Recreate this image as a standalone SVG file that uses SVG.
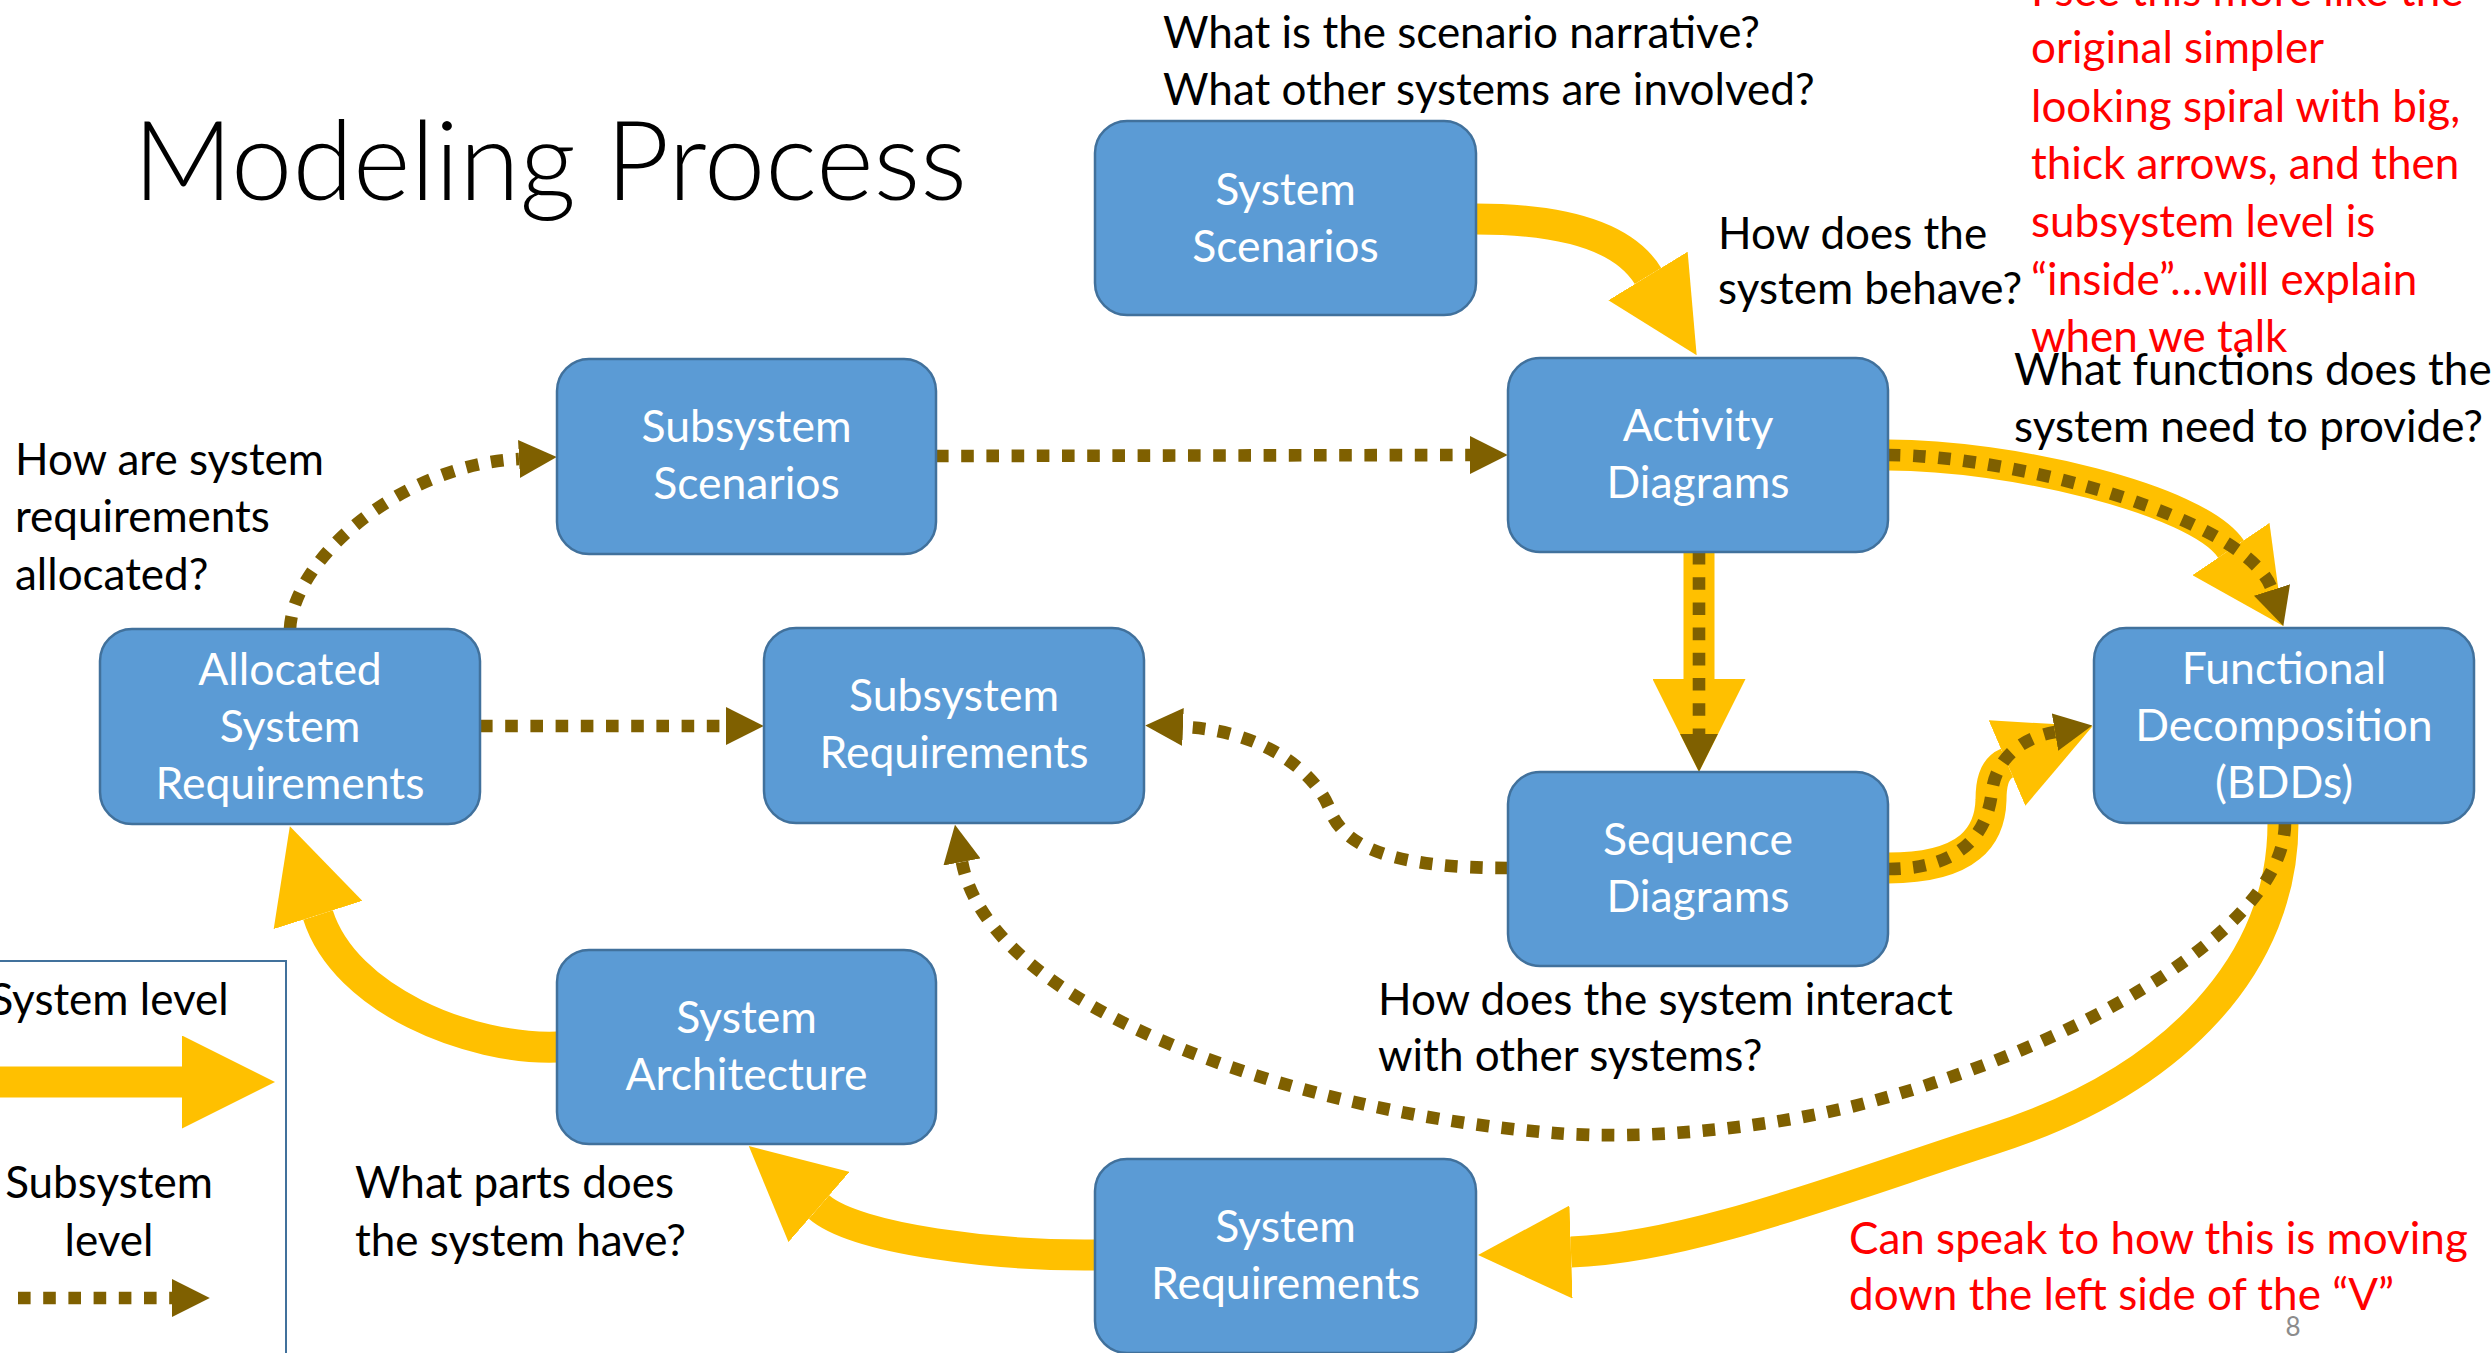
<svg xmlns="http://www.w3.org/2000/svg" width="2491" height="1353" viewBox="0 0 2491 1353">
  <style>
    .box { fill: #5B9BD5; stroke: #41719C; stroke-width: 2.5; }
    .lbl { font-family: Lato, "Open Sans", sans-serif; font-size: 44.5px; fill: #FFFFFF; text-anchor: middle; }
    .txt { font-family: Lato, "Open Sans", sans-serif; font-size: 44px; fill: #000000; }
    .note { font-family: Lato, "Open Sans", sans-serif; font-size: 44px; fill: #FF0000; }
    .title { font-family: Lato, "Open Sans", sans-serif; font-weight: 300; font-size: 110px; fill: #000000; }
    .sys { fill: none; stroke: #FFC000; stroke-width: 31; marker-end: url(#head-sys); }
    .sub { fill: none; stroke: #7F6000; stroke-width: 12.6; stroke-dasharray: 12.6 12.6; marker-end: url(#head-sub); }
  </style>
  <defs>
    <marker id="head-sys" viewBox="0 0 10 10" refX="0" refY="5" markerWidth="3" markerHeight="3" markerUnits="strokeWidth" orient="auto">
      <path d="M0,0 L10,5 L0,10 Z" fill="#FFC000"/>
    </marker>
    <marker id="head-sub" viewBox="0 0 10 10" refX="0" refY="5" markerWidth="3" markerHeight="3" markerUnits="strokeWidth" orient="auto">
      <path d="M0,0 L10,5 L0,10 Z" fill="#7F6000"/>
    </marker>
  </defs>

  <rect x="0" y="0" width="2491" height="1353" fill="#FFFFFF"/>

  <text class="title" x="133" y="200">Modeling Process</text>

  <!-- legend -->
  <g id="legend">
    <rect x="-5" y="961" width="291" height="410" fill="#FFFFFF" stroke="#41719C" stroke-width="2"/>
    <text class="txt" x="109" y="1015" text-anchor="middle">System level</text>
    <path class="sys" d="M-10,1082 L182,1082"/>
    <text class="txt" x="109" y="1198" text-anchor="middle">Subsystem</text>
    <text class="txt" x="109" y="1256" text-anchor="middle">level</text>
    <path class="sub" d="M18,1298 L172,1298"/>
  </g>

  <!-- connectors -->
  <g id="connectors">
    <!-- system level -->
    <path class="sys" d="M1476,219 Q1613,219 1648,276"/>
    <path class="sys" d="M1888,455 C2010,455 2197,499 2231,549"/>
    <path class="sys" d="M1699,552 L1699,679"/>
    <path class="sys" d="M1888,868 C1970,868 1990,835 1991,800 C1991,785 1993,769 2007,763"/>
    <path class="sys" d="M2283,823 C2283,960 2180,1080 1990,1140 C1850,1185 1690,1248 1571,1252"/>
    <path class="sys" d="M1095,1255 C1000,1256 857,1240 819,1207"/>
    <path class="sys" d="M557,1047 C470,1050 345,1000 318,915"/>
    <!-- subsystem level -->
    <path class="sub" d="M290,629 C293,560 400,465 519,459"/>
    <path class="sub" d="M936,456 L1470,455"/>
    <path class="sub" d="M480,726 L726,726"/>
    <path class="sub" d="M1699,552 L1699,734"/>
    <path class="sub" d="M1888,455 C2015,455 2250,520 2272,590"/>
    <path class="sub" d="M1888,869 C1965,869 1988,830 1992,791 C1996,760 2020,738 2055,732"/>
    <path class="sub" d="M1508,868 C1400,868 1345,850 1330,810 C1315,770 1260,730 1183,727"/>
    <path class="sub" d="M2285,823 C2285,930 2070,1050 1862,1104 C1760,1130 1640,1140 1554,1133 C1300,1113 990,1010 962,862"/>
  </g>

  <!-- nodes -->
  <g id="system-scenarios">
    <rect class="box" x="1095" y="121" width="381" height="194" rx="32"/>
    <text class="lbl" x="1285.5" y="205">System</text>
    <text class="lbl" x="1285.5" y="262">Scenarios</text>
  </g>
  <g id="subsystem-scenarios">
    <rect class="box" x="557" y="359" width="379" height="195" rx="32"/>
    <text class="lbl" x="746.5" y="442">Subsystem</text>
    <text class="lbl" x="746.5" y="499">Scenarios</text>
  </g>
  <g id="activity-diagrams">
    <rect class="box" x="1508" y="358" width="380" height="194" rx="32"/>
    <text class="lbl" x="1698" y="441">Activity</text>
    <text class="lbl" x="1698" y="498">Diagrams</text>
  </g>
  <g id="allocated-system-requirements">
    <rect class="box" x="100" y="629" width="380" height="195" rx="32"/>
    <text class="lbl" x="290" y="685">Allocated</text>
    <text class="lbl" x="290" y="742">System</text>
    <text class="lbl" x="290" y="799">Requirements</text>
  </g>
  <g id="subsystem-requirements">
    <rect class="box" x="764" y="628" width="380" height="195" rx="32"/>
    <text class="lbl" x="954" y="711">Subsystem</text>
    <text class="lbl" x="954" y="768">Requirements</text>
  </g>
  <g id="functional-decomposition">
    <rect class="box" x="2094" y="628" width="380" height="195" rx="32"/>
    <text class="lbl" x="2284" y="684">Functional</text>
    <text class="lbl" x="2284" y="741">Decomposition</text>
    <text class="lbl" x="2284" y="798">(BDDs)</text>
  </g>
  <g id="sequence-diagrams">
    <rect class="box" x="1508" y="772" width="380" height="194" rx="32"/>
    <text class="lbl" x="1698" y="855">Sequence</text>
    <text class="lbl" x="1698" y="912">Diagrams</text>
  </g>
  <g id="system-architecture">
    <rect class="box" x="557" y="950" width="379" height="194" rx="32"/>
    <text class="lbl" x="746.5" y="1033">System</text>
    <text class="lbl" x="746.5" y="1090">Architecture</text>
  </g>
  <g id="system-requirements">
    <rect class="box" x="1095" y="1159" width="381" height="194" rx="32"/>
    <text class="lbl" x="1285.5" y="1242">System</text>
    <text class="lbl" x="1285.5" y="1299">Requirements</text>
  </g>

  <!-- questions -->
  <g id="questions">
    <text class="txt" x="1163" y="48">What is the scenario narrative?</text>
    <text class="txt" x="1163" y="105">What other systems are involved?</text>
    <text class="txt" x="1718" y="249">How does the</text>
    <text class="txt" x="1718" y="304">system behave?</text>
    <text class="txt" x="2014" y="385">What functions does the</text>
    <text class="txt" x="2014" y="442">system need to provide?</text>
    <text class="txt" x="15" y="475">How are system</text>
    <text class="txt" x="15" y="532">requirements</text>
    <text class="txt" x="15" y="590">allocated?</text>
    <text class="txt" x="1378" y="1015">How does the system interact</text>
    <text class="txt" x="1378" y="1071">with other systems?</text>
    <text class="txt" x="355" y="1198">What parts does</text>
    <text class="txt" x="355" y="1256">the system have?</text>
  </g>

  <!-- review notes -->
  <g id="notes">
    <text class="note" x="2031" y="6">I see this more like the</text>
    <text class="note" x="2031" y="63">original simpler</text>
    <text class="note" x="2031" y="122">looking spiral with big,</text>
    <text class="note" x="2031" y="179">thick arrows, and then</text>
    <text class="note" x="2031" y="237">subsystem level is</text>
    <text class="note" x="2031" y="295">“inside”…will explain</text>
    <text class="note" x="2031" y="352">when we talk</text>
    <text class="note" x="1849" y="1254">Can speak to how this is moving</text>
    <text class="note" x="1849" y="1310">down the left side of the “V”</text>
  </g>

  <text x="2293" y="1336" font-family="Lato, 'Open Sans', sans-serif" font-size="26" fill="#8C8C8C" text-anchor="middle">8</text>
</svg>
